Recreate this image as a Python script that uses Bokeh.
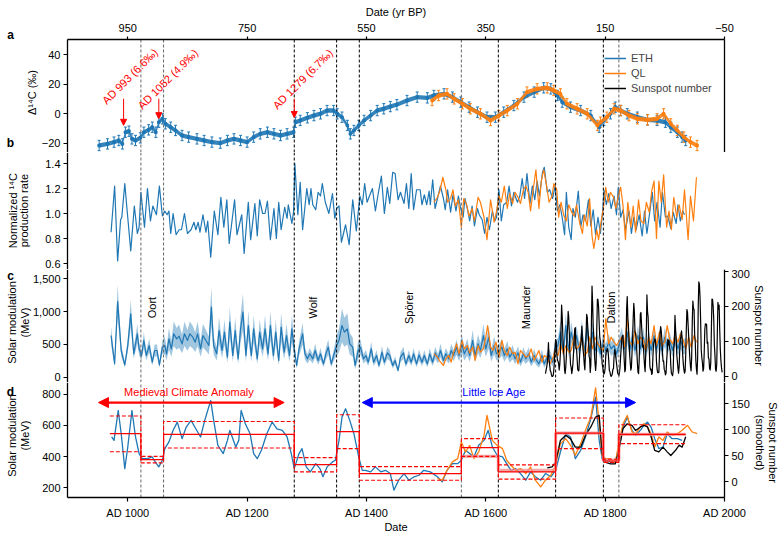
import math
import numpy as np
from bokeh.plotting import figure
from bokeh.layouts import column
from bokeh.models import (Range1d, LinearAxis, FixedTicker, Span, Label, Arrow,
                          NormalHead, TeeHead, Legend, LegendItem, ColumnDataSource,
                          Whisker, NumeralTickFormatter, PrintfTickFormatter)
from bokeh.embed import file_html
from bokeh.resources import INLINE

# ======================= DATA =======================
date_ticks = [1000, 1200, 1400, 1600, 1800, 2000]
bp_labels = ["950", "750", "550", "350", "150", "\u221250"]
ad_labels = ["AD 1000", "AD 1200", "AD 1400", "AD 1600", "AD 1800", "AD 2000"]

minima_lines = [1022, 1060, 1279, 1350, 1388, 1559, 1621, 1717, 1797, 1823]
minima_dark = [False, False, True, True, True, False, True, True, True, False]
minima_names = ["Oort", "Wolf", "Sp\u00f6rer", "Maunder", "Dalton"]
minima_name_years = [1040, 1311, 1472, 1668, 1809]

event_texts = ["AD 993 (6.6\u2030)", "AD 1052 (4.9\u2030)", "AD 1279 (6.7\u2030)"]
event_years = [993, 1052, 1279]

# (a) Delta14C, permil
a_eth = [(952, -21.7), (966, -20.6), (977, -19.4), (985, -18.3), (991, -20.6), (996, -12.7),
         (1002, -12.0), (1007, -17.2), (1013, -18.3), (1021, -16.5), (1027, -12.7), (1035, -11.1),
         (1041, -9.3), (1047, -12.7), (1052, -5.9), (1058, -3.6), (1063, -7.0), (1072, -9.3),
         (1080, -11.5), (1091, -14.9), (1102, -16.0), (1116, -17.2), (1128, -18.3), (1141, -19.4),
         (1155, -20.1), (1167, -18.3), (1178, -17.2), (1189, -18.3), (1200, -19.4), (1211, -16.0),
         (1222, -13.8), (1234, -12.7), (1245, -13.8), (1256, -14.9), (1267, -13.8), (1278, -12.7),
         (1281, -5.9), (1289, -4.7), (1301, -2.9), (1312, -1.4), (1323, -0.2), (1334, 2.0),
         (1345, 2.0), (1351, -0.2), (1359, -2.5), (1368, -8.1), (1373, -13.8), (1379, -11.5),
         (1387, -8.1), (1396, -4.7), (1407, -1.4), (1418, 2.0), (1429, 3.2), (1440, 4.7),
         (1451, 6.0), (1468, 8.8), (1485, 11.1), (1502, 10.6), (1513, 12.2), (1530, 13.3),
         (1544, 11.1), (1558, 7.7), (1572, 4.3), (1586, 0.9), (1602, -2.5), (1616, -2.5),
         (1630, 0.9), (1647, 5.4), (1664, 11.1), (1681, 14.5), (1697, 17.4), (1709, 16.7),
         (1720, 12.2), (1728, 7.7), (1742, 4.3), (1759, 2.0), (1776, -1.4), (1790, -9.3),
         (1798, -4.7), (1809, -0.2), (1817, 4.3), (1826, 2.0), (1837, -0.2), (1854, -2.5),
         (1871, -4.3), (1887, -4.7), (1901, -5.9), (1910, -9.3), (1921, -12.7), (1929, -16.0),
         (1935, -18.3)]
a_ql = [(1510, 8.8), (1521, 12.2), (1535, 13.3), (1547, 9.9), (1561, 6.6), (1574, 3.2),
        (1591, -0.2), (1608, -4.7), (1622, -1.4), (1636, 2.0), (1653, 6.6), (1669, 14.5),
        (1686, 16.7), (1703, 17.4), (1714, 15.6), (1725, 13.3), (1736, 6.6), (1753, 3.2),
        (1770, -0.2), (1787, -8.1), (1792, -5.9), (1803, -2.5), (1815, 3.2), (1826, 2.0),
        (1840, -1.4), (1854, -3.6), (1871, -4.3), (1887, -3.6), (1898, -0.2), (1910, -7.0),
        (1921, -11.5), (1932, -16.0), (1943, -19.4), (1954, -21.7)]
a_err = 3.5

# (b) normalized 14C production rate
b_eth = [(972, 0.85), (978, 1.22), (983, 0.62), (988, 0.95), (990, 0.97), (995, 1.24), (999, 1.02),
         (1005, 0.70), (1011, 1.06), (1016, 0.84), (1019, 0.89), (1022, 1.17), (1028, 0.89),
         (1033, 1.20), (1038, 0.94), (1042, 1.06), (1048, 0.99), (1053, 1.22), (1058, 0.98),
         (1062, 1.02), (1066, 0.99), (1069, 1.02), (1072, 0.84), (1076, 1.00), (1081, 0.83),
         (1086, 0.87), (1090, 0.87), (1095, 1.00), (1100, 0.84), (1106, 0.87), (1111, 0.93),
         (1114, 0.87), (1118, 0.93), (1121, 0.85), (1126, 0.99), (1131, 0.85), (1134, 0.94),
         (1139, 0.65), (1145, 1.02), (1151, 0.83), (1156, 1.13), (1161, 0.89), (1166, 1.11),
         (1170, 0.76), (1179, 1.11), (1183, 0.83), (1191, 0.99), (1195, 0.68), (1202, 1.09),
         (1206, 0.79), (1213, 1.08), (1217, 0.82), (1221, 1.11), (1226, 1.00), (1230, 1.00),
         (1234, 1.10), (1239, 0.79), (1245, 1.04), (1249, 0.80), (1253, 1.09), (1257, 0.87),
         (1263, 1.05), (1267, 0.96), (1269, 1.07), (1275, 0.92), (1278, 1.02), (1280, 1.40),
         (1285, 0.99), (1289, 1.25), (1293, 0.87), (1300, 1.20), (1304, 1.07), (1307, 1.20),
         (1310, 1.07), (1315, 1.03), (1319, 1.17), (1323, 1.14), (1326, 1.24), (1331, 1.09),
         (1337, 1.00), (1343, 1.16), (1347, 0.96), (1350, 1.04), (1354, 1.06), (1358, 0.77),
         (1365, 0.91), (1371, 0.75), (1377, 1.11), (1383, 0.86), (1389, 1.14), (1393, 1.07),
         (1397, 1.24), (1401, 1.09), (1410, 1.20), (1415, 1.02), (1419, 1.14), (1425, 1.30),
         (1430, 1.00), (1435, 1.21), (1439, 1.08), (1444, 1.33), (1448, 1.32), (1453, 1.11),
         (1457, 1.17), (1463, 1.08), (1467, 1.24), (1471, 1.04), (1475, 1.32), (1479, 1.03),
         (1484, 1.19), (1490, 1.19), (1493, 1.07), (1497, 1.15), (1501, 1.07), (1505, 1.18),
         (1507, 1.07), (1511, 1.27), (1515, 1.04), (1519, 1.12), (1524, 1.22), (1529, 1.12),
         (1532, 1.03), (1536, 1.19), (1541, 1.01), (1545, 1.15), (1550, 1.02), (1554, 1.14),
         (1558, 1.04), (1562, 0.97), (1565, 1.12), (1569, 1.04), (1573, 0.94), (1577, 1.06),
         (1581, 0.90), (1586, 1.04), (1589, 0.99), (1594, 0.95), (1598, 0.84), (1602, 0.97),
         (1606, 0.87), (1611, 1.02), (1615, 0.94), (1618, 0.97), (1622, 1.19), (1626, 0.94),
         (1630, 1.07), (1635, 1.09), (1639, 1.22), (1643, 1.06), (1647, 1.17), (1653, 1.09),
         (1657, 1.14), (1661, 1.28), (1665, 1.12), (1669, 1.32), (1674, 1.08), (1678, 1.22),
         (1682, 1.11), (1686, 1.26), (1690, 1.14), (1695, 1.33), (1698, 1.37), (1703, 1.17),
         (1707, 1.19), (1712, 1.12), (1716, 1.22), (1720, 1.02), (1724, 1.07), (1728, 0.97),
         (1732, 0.83), (1735, 1.17), (1739, 0.89), (1743, 0.79), (1746, 1.04), (1750, 0.97),
         (1755, 1.18), (1759, 0.89), (1763, 0.99), (1767, 0.94), (1772, 1.11), (1776, 0.90),
         (1780, 1.03), (1784, 0.83), (1788, 0.97), (1792, 0.84), (1796, 1.03), (1798, 1.19),
         (1802, 1.07), (1806, 1.16), (1810, 1.04), (1815, 1.14), (1819, 0.99), (1822, 1.21),
         (1826, 0.97), (1830, 1.03), (1834, 0.87), (1840, 1.02), (1844, 0.84), (1848, 0.97),
         (1852, 0.87), (1857, 0.99), (1862, 0.82), (1866, 1.02), (1870, 0.84), (1875, 1.02),
         (1879, 1.17), (1883, 0.94), (1887, 1.09), (1892, 0.89), (1896, 1.17), (1901, 0.97),
         (1905, 0.98), (1910, 0.88), (1914, 1.01), (1919, 0.92), (1922, 1.07), (1926, 0.94),
         (1930, 1.02), (1933, 0.99)]
b_ql = [(1513, 1.09), (1519, 1.13), (1523, 1.18), (1528, 1.29), (1533, 1.19), (1536, 1.09),
        (1541, 1.12), (1545, 1.19), (1549, 1.06), (1554, 1.11), (1559, 0.89), (1563, 1.12),
        (1568, 1.07), (1572, 0.98), (1577, 1.04), (1581, 0.94), (1587, 1.13), (1591, 1.09),
        (1597, 0.97), (1602, 0.79), (1608, 1.11), (1614, 0.93), (1618, 1.02), (1622, 1.14),
        (1626, 1.09), (1631, 1.22), (1636, 1.04), (1640, 1.16), (1645, 1.08), (1649, 1.17),
        (1654, 1.13), (1658, 1.08), (1663, 1.19), (1667, 1.22), (1671, 1.17), (1675, 1.02),
        (1679, 1.18), (1684, 1.35), (1689, 1.04), (1693, 1.26), (1697, 1.35), (1702, 1.22),
        (1706, 1.09), (1711, 1.14), (1714, 1.24), (1719, 1.19), (1722, 0.97), (1726, 1.09),
        (1731, 0.98), (1735, 0.94), (1739, 1.07), (1744, 1.01), (1748, 0.98), (1752, 1.07),
        (1757, 0.93), (1762, 0.84), (1765, 0.99), (1770, 0.90), (1774, 1.12), (1778, 0.82),
        (1781, 0.72), (1786, 0.87), (1789, 0.79), (1793, 0.93), (1797, 1.04), (1801, 1.21),
        (1805, 1.09), (1809, 1.17), (1814, 1.13), (1818, 1.04), (1822, 1.14), (1826, 1.21),
        (1830, 1.06), (1834, 0.79), (1838, 1.09), (1843, 0.89), (1847, 1.06), (1851, 0.85),
        (1856, 1.11), (1860, 0.94), (1865, 0.92), (1869, 1.09), (1874, 1.01), (1878, 1.18),
        (1882, 1.26), (1886, 0.80), (1890, 1.26), (1894, 1.09), (1898, 1.31), (1903, 0.89),
        (1907, 1.02), (1911, 0.87), (1915, 1.13), (1920, 0.97), (1924, 1.07), (1929, 0.95),
        (1933, 1.19), (1939, 0.79), (1943, 1.14), (1948, 0.94), (1953, 1.29)]

# (c) solar modulation (MeV)
c_eth = [(972, 636), (978, 207), (983, 1151), (989, 409), (995, 192), (1000, 485), (1005, 965),
         (1010, 359), (1016, 662), (1019, 434), (1023, 333), (1027, 561), (1031, 333), (1036, 485),
         (1041, 232), (1045, 409), (1049, 409), (1053, 192), (1058, 460), (1062, 485), (1065, 359),
         (1069, 586), (1073, 434), (1077, 662), (1082, 586), (1086, 626), (1091, 510), (1095, 662),
         (1100, 561), (1104, 662), (1109, 611), (1113, 535), (1117, 662), (1122, 434), (1126, 636),
         (1131, 561), (1136, 485), (1140, 1066), (1144, 485), (1149, 359), (1153, 712), (1158, 409),
         (1162, 687), (1167, 308), (1171, 838), (1176, 333), (1180, 712), (1185, 283), (1189, 737),
         (1193, 990), (1198, 333), (1202, 788), (1207, 333), (1211, 737), (1217, 283), (1221, 687),
         (1226, 434), (1230, 737), (1235, 359), (1239, 788), (1244, 333), (1248, 687), (1253, 258),
         (1257, 763), (1262, 384), (1266, 636), (1271, 333), (1275, 737), (1279, 434), (1283, 182),
         (1287, 434), (1293, 662), (1297, 359), (1301, 283), (1305, 359), (1310, 283), (1314, 409),
         (1319, 258), (1323, 359), (1328, 207), (1332, 359), (1336, 460), (1341, 207), (1345, 333),
         (1350, 485), (1354, 561), (1359, 788), (1363, 687), (1368, 737), (1372, 510), (1377, 460),
         (1381, 182), (1386, 409), (1390, 460), (1395, 283), (1399, 333), (1403, 232), (1408, 434),
         (1412, 232), (1417, 333), (1421, 182), (1426, 384), (1430, 232), (1435, 374), (1439, 333),
         (1444, 182), (1448, 258), (1453, 106), (1457, 308), (1462, 374), (1466, 207), (1471, 333),
         (1475, 232), (1479, 359), (1484, 207), (1488, 343), (1493, 232), (1497, 333), (1502, 207),
         (1506, 359), (1511, 232), (1515, 374), (1520, 283), (1524, 409), (1529, 258), (1533, 359),
         (1538, 283), (1542, 409), (1546, 333), (1551, 460), (1555, 333), (1560, 510), (1564, 359),
         (1569, 460), (1573, 333), (1578, 561), (1582, 333), (1587, 510), (1591, 409), (1596, 636),
         (1600, 434), (1605, 611), (1609, 333), (1614, 485), (1618, 359), (1622, 384), (1627, 460),
         (1631, 333), (1636, 434), (1640, 308), (1645, 384), (1649, 283), (1654, 374), (1658, 232),
         (1663, 359), (1667, 283), (1672, 359), (1676, 232), (1681, 333), (1685, 258), (1689, 207),
         (1694, 333), (1698, 207), (1703, 308), (1707, 333), (1712, 232), (1716, 434), (1721, 485),
         (1725, 687), (1730, 384), (1734, 788), (1739, 409), (1743, 687), (1748, 485), (1752, 636),
         (1757, 409), (1761, 712), (1765, 384), (1770, 763), (1774, 384), (1779, 687), (1783, 409),
         (1788, 535), (1792, 359), (1797, 535), (1801, 409), (1806, 535), (1810, 434), (1815, 485),
         (1819, 359), (1824, 510), (1828, 611), (1832, 434), (1837, 687), (1841, 409), (1846, 636),
         (1850, 409), (1855, 636), (1859, 434), (1864, 611), (1868, 384), (1873, 586), (1877, 409),
         (1882, 636), (1886, 434), (1891, 586), (1895, 409), (1900, 611), (1904, 460), (1908, 561),
         (1913, 409), (1917, 636), (1922, 434), (1926, 561), (1931, 460), (1935, 485)]
c_ql = [(1513, 359), (1519, 308), (1524, 232), (1529, 182), (1533, 283), (1538, 333), (1542, 232),
        (1546, 384), (1551, 510), (1555, 359), (1560, 561), (1564, 434), (1569, 485), (1573, 374),
        (1578, 460), (1582, 258), (1587, 485), (1591, 384), (1596, 434), (1600, 611), (1603, 788),
        (1608, 460), (1612, 409), (1617, 535), (1622, 308), (1627, 561), (1631, 409), (1636, 333),
        (1640, 460), (1645, 359), (1649, 384), (1654, 207), (1658, 409), (1663, 359), (1667, 308),
        (1672, 333), (1676, 434), (1681, 258), (1685, 333), (1689, 409), (1694, 232), (1698, 333),
        (1703, 308), (1707, 207), (1712, 283), (1716, 409), (1721, 333), (1725, 510), (1730, 359),
        (1734, 485), (1739, 384), (1743, 409), (1748, 636), (1752, 434), (1757, 485), (1761, 636),
        (1765, 333), (1770, 384), (1774, 611), (1779, 434), (1783, 611), (1788, 510), (1792, 460),
        (1797, 409), (1801, 889), (1806, 510), (1810, 611), (1815, 535), (1819, 485), (1824, 561),
        (1828, 611), (1832, 460), (1837, 889), (1841, 535), (1846, 485), (1850, 712), (1855, 510),
        (1859, 611), (1864, 561), (1868, 409), (1873, 611), (1877, 510), (1882, 788), (1886, 485),
        (1891, 687), (1895, 485), (1900, 535), (1904, 788), (1908, 586), (1913, 510), (1917, 636),
        (1922, 535), (1926, 662), (1931, 561), (1935, 434), (1940, 611), (1944, 460), (1949, 636),
        (1953, 535)]
c_unc_edges = [960, 1060, 1279, 1350, 1388, 1559, 1717, 1960]
c_unc_rel = [0.22, 0.28, 0.25, 0.32, 0.25, 0.28, 0.24]

# yearly sunspot number, from 1700
sunspot_start = 1700
sunspot = [8.3, 18.3, 26.7, 38.3, 60.0, 96.7, 48.3, 33.3, 16.7, 13.3,
           5.0, 0.0, 0.0, 3.3, 18.3, 45.0, 78.3, 105.0, 100.0, 65.0,
           46.7, 43.3, 36.7, 18.3, 35.0, 66.7, 130.0, 203.3, 171.7, 121.7,
           78.3, 58.3, 18.3, 8.3, 26.7, 56.7, 116.7, 135.0, 185.0, 168.3,
           121.7, 66.7, 33.3, 26.7, 8.3, 18.3, 36.7, 66.7, 100.0, 134.8,
           139.0, 79.5, 79.7, 51.2, 20.3, 16.0, 17.0, 54.0, 79.3, 90.0,
           104.8, 143.2, 102.0, 75.2, 60.7, 34.8, 19.0, 63.0, 116.3, 176.8,
           168.0, 136.0, 110.8, 58.0, 51.0, 11.7, 33.0, 154.2, 257.3, 209.8,
           141.3, 113.5, 64.2, 38.0, 17.0, 40.2, 138.2, 220.0, 218.2, 196.8,
           149.8, 111.0, 100.0, 78.2, 68.3, 35.5, 26.7, 10.7, 6.8, 11.3,
           24.2, 56.7, 75.0, 71.8, 79.2, 70.3, 46.8, 16.8, 13.5, 4.2,
           0.0, 2.3, 8.3, 20.3, 23.2, 59.0, 76.3, 68.3, 52.9, 38.5,
           24.2, 9.2, 6.3, 2.2, 11.4, 28.2, 59.9, 83.0, 108.5, 115.2,
           117.4, 80.8, 44.3, 13.4, 19.5, 85.8, 192.7, 227.3, 168.7, 143.0,
           105.5, 63.3, 40.3, 18.1, 25.1, 65.8, 102.7, 166.3, 208.3, 182.5,
           126.3, 122.0, 102.7, 74.1, 39.0, 12.7, 8.2, 43.4, 104.4, 178.3,
           182.2, 146.6, 112.1, 83.5, 89.3, 57.8, 30.7, 13.9, 62.8, 123.6,
           232.0, 185.3, 169.2, 110.1, 74.5, 28.3, 18.9, 20.7, 5.7, 10.0,
           53.7, 90.5, 99.0, 106.1, 105.8, 86.3, 42.4, 21.8, 11.2, 10.4,
           11.8, 59.5, 121.7, 142.0, 130.0, 106.6, 69.4, 43.8, 44.4, 20.2,
           15.7, 4.6, 8.5, 40.8, 70.1, 105.5, 90.1, 102.8, 80.9, 73.2,
           30.9, 9.5, 6.0, 2.4, 16.1, 79.0, 95.0, 173.6, 134.6, 105.7,
           62.7, 43.5, 23.7, 9.7, 27.9, 74.0, 106.5, 114.7, 129.7, 108.2,
           59.4, 35.1, 18.6, 9.2, 14.6, 60.2, 132.8, 190.6, 182.6, 148.0,
           113.0, 79.2, 50.8, 27.1, 16.1, 55.3, 154.3, 214.7, 193.0, 190.7,
           118.9, 98.3, 45.0, 20.1, 6.6, 54.2, 200.7, 269.3, 261.7, 225.1,
           159.0, 76.4, 53.4, 39.9, 15.0, 22.0, 66.8, 132.9, 150.0, 149.4,
           148.0, 94.4, 97.6, 54.1, 49.2, 22.5, 18.4, 39.3, 131.0, 220.1,
           218.9, 198.9, 162.4, 91.0, 60.5, 20.6, 14.8, 33.9, 123.0, 211.1,
           191.8, 203.3, 133.0, 76.1, 44.9, 25.1, 11.6]

# (d) smoothed solar modulation (MeV) and smoothed sunspot number
d_eth = [(973, 526), (977, 504), (984, 697), (989, 547), (995, 322), (1000, 461), (1007, 697),
         (1013, 526), (1019, 419), (1024, 386), (1033, 386), (1041, 397), (1046, 365), (1052, 333),
         (1058, 376), (1062, 451), (1069, 494), (1076, 569), (1083, 622), (1091, 515), (1098, 590),
         (1106, 633), (1114, 579), (1122, 526), (1129, 633), (1139, 761), (1144, 633), (1151, 472),
         (1160, 419), (1167, 504), (1171, 569), (1175, 526), (1181, 461), (1186, 504), (1190, 697),
         (1197, 611), (1205, 547), (1211, 419), (1217, 386), (1224, 440), (1233, 547), (1242, 622),
         (1250, 579), (1259, 569), (1267, 526), (1274, 419), (1279, 322), (1287, 419), (1292, 451),
         (1299, 333), (1306, 301), (1315, 354), (1322, 322), (1327, 269), (1334, 333), (1343, 365),
         (1348, 376), (1354, 504), (1359, 654), (1365, 708), (1372, 633), (1379, 547), (1387, 397),
         (1393, 311), (1398, 311), (1407, 301), (1415, 333), (1424, 301), (1432, 311), (1440, 290),
         (1446, 183), (1454, 247), (1463, 290), (1471, 247), (1480, 269), (1488, 279), (1496, 311),
         (1507, 301), (1519, 269), (1527, 236), (1535, 311), (1544, 354), (1553, 354), (1559, 376),
         (1566, 440), (1573, 419), (1580, 397), (1588, 472), (1597, 504), (1604, 569), (1611, 461),
         (1619, 408), (1628, 397), (1635, 354), (1642, 311), (1650, 322), (1658, 290), (1667, 247),
         (1675, 301), (1683, 269), (1692, 247), (1700, 290), (1709, 269), (1717, 311), (1725, 429),
         (1734, 547), (1742, 526), (1750, 386), (1759, 440), (1767, 526), (1776, 644), (1784, 783),
         (1790, 504), (1795, 386), (1801, 376), (1809, 365), (1817, 365), (1823, 461), (1830, 590),
         (1837, 654), (1845, 569), (1851, 536), (1859, 569), (1865, 601), (1871, 622), (1877, 590),
         (1883, 515), (1890, 451), (1897, 461), (1904, 547), (1912, 515), (1921, 515), (1929, 504)]
d_ql = [(1519, 258), (1527, 247), (1535, 311), (1544, 365), (1553, 386), (1559, 494), (1566, 429),
        (1573, 472), (1580, 386), (1588, 429), (1597, 536), (1602, 665), (1611, 504), (1619, 472),
        (1628, 451), (1635, 376), (1642, 344), (1650, 311), (1658, 322), (1667, 290), (1675, 333),
        (1683, 247), (1692, 204), (1700, 247), (1709, 279), (1717, 344), (1725, 483), (1734, 515),
        (1742, 472), (1750, 408), (1759, 483), (1767, 569), (1776, 654), (1784, 843), (1790, 611),
        (1795, 408), (1801, 386), (1809, 386), (1817, 354), (1823, 494), (1830, 611), (1837, 665),
        (1845, 558), (1851, 547), (1859, 590), (1865, 611), (1871, 590), (1877, 547), (1883, 461),
        (1890, 526), (1897, 504), (1904, 558), (1912, 536), (1921, 547), (1929, 569), (1938, 601),
        (1946, 558), (1954, 547)]
d_ssn = [(1703, 26), (1711, 28), (1717, 37), (1725, 79), (1734, 89), (1742, 82), (1750, 66),
         (1759, 66), (1767, 89), (1776, 105), (1784, 124), (1790, 127), (1795, 53), (1801, 37),
         (1809, 34), (1817, 34), (1823, 60), (1830, 102), (1837, 111), (1845, 108), (1851, 98),
         (1859, 105), (1865, 108), (1871, 105), (1877, 86), (1883, 60), (1890, 57), (1897, 66),
         (1904, 57), (1910, 50), (1918, 60), (1924, 70), (1929, 66), (1935, 86)]

seg_edges = [970, 1022, 1060, 1279, 1350, 1388, 1559, 1621, 1717, 1797, 1823, 1935]
seg_mean = [547, 380, 543, 348, 560, 290, 457, 301, 551, 371, 543]
seg_upper = [661, 401, 626, 393, 669, 335, 515, 346, 648, 382, 605]
seg_lower = [431, 359, 455, 301, 451, 247, 401, 254, 451, 361, 483]
# period means from the sunspot/QL comparison (light red)
seg2_edges = [1559, 1621, 1717, 1797, 1823, 1935]
seg2_mean = [401, 311, 551, 376, 543]

mca_span = (951, 1262)
lia_span = (1393, 1851)

# ======================= STYLE / LAYOUT =======================
FONT = "Liberation Sans"
BLUE = "#1f77b4"
ORANGE = "#ff7f0e"
W = 780
X_LO, X_HI = 899, 2000                       # plotted date span
xr = Range1d(786.72, 2093.85)                # full canvas width in date units

A_LIM = (-26.44, 50.17)
D_LIM = (135.5, 877.4)
D_SS_LIM = (-30.8, 190.4)


def mk(height, y0, y1):
    p = figure(width=W, height=height, x_range=xr, y_range=Range1d(y0, y1),
               output_backend="svg", toolbar_location=None, title=None,
               x_axis_location=None, y_axis_location=None,
               min_border_left=0, min_border_right=0, min_border_top=0, min_border_bottom=0)
    p.outline_line_color = None
    p.grid.visible = False
    p.background_fill_color = "white"
    p.border_fill_color = "white"
    return p


def style_axis(ax, ticks, overrides=None, standoff=3, tick_out=4):
    ax.ticker = FixedTicker(ticks=ticks)
    ax.minor_tick_line_color = None
    ax.major_tick_in = 0
    ax.major_tick_out = tick_out
    ax.axis_line_color = "black"
    ax.axis_line_width = 1.3
    ax.major_tick_line_color = "black"
    ax.major_tick_line_width = 1.2
    ax.major_label_text_font = FONT
    ax.major_label_text_font_size = "11px"
    ax.major_label_text_color = "black"
    ax.major_label_standoff = standoff
    if overrides:
        ax.major_label_overrides = overrides
    return ax


def lbl(p, x, y, text, angle=0.0, color="black", size="11px", style="normal",
        align="center", baseline="middle"):
    p.add_layout(Label(x=x, y=y, text=text, angle=angle, text_color=color,
                       text_font=FONT, text_font_size=size, text_font_style=style,
                       text_align=align, text_baseline=baseline))


def add_vlines(p, ylim=None):
    for yr, dark in zip(minima_lines, minima_dark):
        col = "black" if dark else "#666666"
        if ylim is None:
            p.add_layout(Span(location=yr, dimension="height", line_dash="3 2",
                              line_color=col, line_width=1))
        else:
            p.segment(x0=[yr], y0=[ylim[0]], x1=[yr], y1=[ylim[1]], line_dash="3 2",
                      line_color=col, line_width=1)


def unzip(pairs):
    return np.array([q[0] for q in pairs], float), np.array([q[1] for q in pairs], float)


# ---------------- panel a ----------------
pa = mk(152, -26.44, 76.61)
ax_top = style_axis(LinearAxis(fixed_location=A_LIM[1], bounds=(X_LO, X_HI)), date_ticks,
                    dict(zip(date_ticks, bp_labels)), standoff=4, tick_out=3)
pa.add_layout(ax_top, "above")
pa.add_layout(style_axis(LinearAxis(fixed_location=X_LO, bounds=A_LIM), [-20, 0, 20, 40],
                         {-20: "\u221220"}), "left")
ax_ar = LinearAxis(fixed_location=X_HI, bounds=A_LIM, ticker=FixedTicker(ticks=[]),
                   major_label_text_font_size="0px", major_tick_line_color=None,
                   minor_tick_line_color=None, axis_line_color="black", axis_line_width=1.3)
pa.add_layout(ax_ar, "right")
add_vlines(pa, A_LIM)

for pairs, col in ((a_eth, BLUE), (a_ql, ORANGE)):
    x, y = unzip(pairs)
    src = ColumnDataSource(dict(x=x, y=y, lo=y - a_err, hi=y + a_err, lo2=y - 1.5, hi2=y + 1.5))
    pa.varea(x="x", y1="lo2", y2="hi2", source=src, fill_color=col, fill_alpha=0.9)
    pa.add_layout(Whisker(source=src, base="x", lower="lo", upper="hi", line_color=col,
                          line_width=1,
                          lower_head=TeeHead(size=3, line_color=col),
                          upper_head=TeeHead(size=3, line_color=col)))
    pa.scatter("x", "y", source=src, marker="square", size=2.5, color=col)

event_tips = [-8, -3.5, -2.7]
event_text_pos = [(960, 7.7), (1020, 4.3), (1246, 4.3)]
for yr, tip, txt, (tx, ty) in zip(event_years, event_tips, event_texts, event_text_pos):
    pa.add_layout(Arrow(x_start=yr, y_start=10, x_end=yr, y_end=tip, line_color="red",
                        line_width=1, end=NormalHead(size=6, fill_color="red", line_color="red")))
    lbl(pa, tx, ty, txt, angle=math.radians(45), color="red", align="left")

r_eth = pa.line(x=[700, 710], y=[0, 0], color=BLUE, line_width=1.5)
r_ql = pa.line(x=[700, 710], y=[0, 0], color=ORANGE, line_width=1.5)
r_ss = pa.line(x=[700, 710], y=[0, 0], color="black", line_width=1.5)
leg = Legend(items=[LegendItem(label="ETH", renderers=[r_eth]),
                    LegendItem(label="QL", renderers=[r_ql]),
                    LegendItem(label="Sunspot number", renderers=[r_ss])],
             location=(604, 57), label_text_font=FONT, label_text_font_size="11px",
             glyph_width=22, glyph_height=14, label_height=14, spacing=1, padding=3,
             margin=0, border_line_color=None, background_fill_alpha=0.0, label_standoff=5)
pa.add_layout(leg)

lbl(pa, 1449.5, 68.5, "Date (yr BP)")
lbl(pa, 840.3, 14.2, "\u0394\u00b9\u2074C (\u2030)", angle=math.pi / 2)
lbl(pa, 803.5, 52.9, "a", size="12px", style="bold")
lbl(pa, 803.5, -20.3, "b", size="12px", style="bold")

# ---------------- panel b ----------------
pb = mk(117, 0.552, 1.488)
axb = style_axis(LinearAxis(fixed_location=X_LO), [0.6, 0.8, 1.0, 1.2, 1.4])
axb.formatter = PrintfTickFormatter(format="%.1f")
pb.add_layout(axb, "left")
add_vlines(pb)
x, y = unzip(b_eth)
pb.line(x, y, color=BLUE, line_width=1.2, line_join="round")
x, y = unzip(b_ql)
pb.line(x, y, color=ORANGE, line_width=1.2, line_join="round")
lbl(pb, 808.5, 1.023, "Normalized \u00b9\u2074C", angle=math.pi / 2)
lbl(pb, 825.3, 1.023, "production rate", angle=math.pi / 2)

# ---------------- panel c ----------------
pc = mk(113, -75.8, 1636.4)
pc.extra_y_ranges = {"ss": Range1d(-17.1, 304.3)}
axc = style_axis(LinearAxis(fixed_location=X_LO), [0, 500, 1000, 1500])
axc.formatter = NumeralTickFormatter(format="0,0")
pc.add_layout(axc, "left")
pc.add_layout(style_axis(LinearAxis(y_range_name="ss", fixed_location=X_HI), [0, 100, 200, 300]),
              "right")
add_vlines(pc)
x, y = unzip(c_eth)
idx = np.clip(np.searchsorted(c_unc_edges, x, side="right") - 1, 0, len(c_unc_rel) - 1)
rel = np.array(c_unc_rel)[idx]
pc.varea(x=x, y1=y * (1 - rel), y2=y * (1 + rel), fill_color=BLUE, fill_alpha=0.42)
pc.line(x, y, color=BLUE, line_width=1.2, line_join="round")
x, y = unzip(c_ql)
pc.line(x, y, color=ORANGE, line_width=1.2, line_join="round")
ss_years = np.arange(sunspot_start, sunspot_start + len(sunspot))
pc.line(ss_years, sunspot, color="black", line_width=1.2, y_range_name="ss", line_join="round")
for name, yr in zip(minima_names, minima_name_years):
    lbl(pc, yr, 1060, name, angle=math.pi / 2)
lbl(pc, 806.8, 833, "Solar modulation", angle=math.pi / 2)
lbl(pc, 828.6, 833, "(MeV)", angle=math.pi / 2)
lbl(pc, 2057, 788, "Sunspot number", angle=-math.pi / 2)
lbl(pc, 803.5, 1545, "c", size="12px", style="bold")

# ---------------- panel d ----------------
pd_ = mk(156, -129.0, 877.4)
pd_.extra_y_ranges = {"ss": Range1d(-109.6, 190.4)}
pd_.add_layout(style_axis(LinearAxis(fixed_location=X_LO, bounds=D_LIM), [200, 400, 600, 800]),
               "left")
pd_.add_layout(style_axis(LinearAxis(y_range_name="ss", fixed_location=X_HI, bounds=D_SS_LIM),
                          [0, 50, 100, 150]), "right")
axd = style_axis(LinearAxis(fixed_location=D_LIM[0], bounds=(X_LO, X_HI)), date_ticks,
                 dict(zip(date_ticks, ad_labels)), standoff=5)
pd_.add_layout(axd, "below")
add_vlines(pd_, D_LIM)
x, y = unzip(d_eth)
pd_.line(x, y, color=BLUE, line_width=1.3, line_join="round")
x, y = unzip(d_ql)
pd_.line(x, y, color=ORANGE, line_width=1.3, line_join="round")
x, y = unzip(d_ssn)
pd_.line(x, y, color="black", line_width=1.3, y_range_name="ss", line_join="round")
pd_.step(seg2_edges, seg2_mean + [seg2_mean[-1]], mode="after", color="#f28b8b", line_width=3.2,
         line_alpha=0.75)
pd_.step(seg_edges, seg_mean + [seg_mean[-1]], mode="after", color="red", line_width=1.2)
pd_.step(seg_edges, seg_upper + [seg_upper[-1]], mode="after", color="red", line_width=1.1,
         line_dash="4 2")
pd_.step(seg_edges, seg_lower + [seg_lower[-1]], mode="after", color="red", line_width=1.1,
         line_dash="4 2")
pd_.add_layout(Arrow(x_start=mca_span[0], y_start=748, x_end=mca_span[1], y_end=748,
                     line_color="red", line_width=2.2,
                     start=NormalHead(size=10, fill_color="red", line_color="red"),
                     end=NormalHead(size=10, fill_color="red", line_color="red")))
pd_.add_layout(Arrow(x_start=lia_span[0], y_start=748, x_end=lia_span[1], y_end=748,
                     line_color="blue", line_width=2.2,
                     start=NormalHead(size=10, fill_color="blue", line_color="blue"),
                     end=NormalHead(size=10, fill_color="blue", line_color="blue")))
lbl(pd_, 1103, 819, "Medieval Climate Anomaly", color="red")
lbl(pd_, 1614, 819, "Little Ice Age", color="blue")
lbl(pd_, 806.8, 535, "Solar modulation", angle=math.pi / 2)
lbl(pd_, 828.6, 535, "(MeV)", angle=math.pi / 2)
lbl(pd_, 2082, 490, "Sunspot number", angle=-math.pi / 2)
lbl(pd_, 2060, 490, "(smoothed)", angle=-math.pi / 2)
lbl(pd_, 803.5, 819, "d", size="12px", style="bold")
lbl(pd_, 1449.5, -58, "Date")

layout = column(pa, pb, pc, pd_, spacing=0)
open("out.html", "w").write(file_html(layout, INLINE))
